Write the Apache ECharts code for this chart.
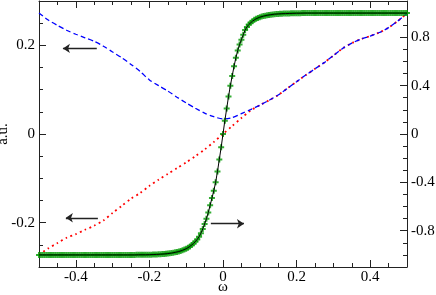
<!DOCTYPE html>
<html>
<head>
<meta charset="utf-8">
<script src="https://cdn.jsdelivr.net/npm/echarts@6/dist/echarts.min.js"></script>
<style>
html,body{margin:0;padding:0;background:#fff;}
#chart{width:436px;height:295px;}
</style>
</head>
<body>
<div id="chart"></div>
<script>
// ---- data ----
const curveOmega = [-0.5,-0.475,-0.45,-0.425,-0.4,-0.375,-0.35,-0.325,-0.3,-0.275,-0.25,-0.225,-0.2,-0.175,-0.15,-0.125,-0.1,-0.075,-0.05,-0.025,0,0.025,0.05,0.075,0.1,0.125,0.15,0.175,0.2,0.225,0.25,0.275,0.3,0.325,0.35,0.375,0.4,0.425,0.45,0.475,0.5];
const blueVals = [0.273,0.257,0.245,0.234,0.225,0.217,0.209,0.198,0.185,0.172,0.157,0.141,0.122,0.109,0.097,0.083,0.070,0.058,0.047,0.039,0.034,0.037,0.046,0.055,0.065,0.076,0.088,0.103,0.118,0.133,0.147,0.161,0.177,0.193,0.205,0.214,0.221,0.229,0.240,0.255,0.272];
const redVals = [-0.272,-0.258,-0.246,-0.234,-0.226,-0.216,-0.207,-0.195,-0.178,-0.162,-0.146,-0.133,-0.117,-0.103,-0.090,-0.077,-0.064,-0.050,-0.035,-0.018,0,0.018,0.036,0.053,0.065,0.076,0.088,0.103,0.118,0.133,0.147,0.161,0.177,0.193,0.205,0.214,0.221,0.229,0.240,0.255,0.272];

const stepOmega = [
-0.5,-0.495,-0.49,-0.485,-0.48,-0.475,-0.47,-0.465,-0.46,-0.455,
-0.45,-0.445,-0.44,-0.435,-0.43,-0.425,-0.42,-0.415,-0.41,-0.405,
-0.4,-0.395,-0.39,-0.385,-0.38,-0.375,-0.37,-0.365,-0.36,-0.355,
-0.35,-0.345,-0.34,-0.335,-0.33,-0.325,-0.32,-0.315,-0.31,-0.305,
-0.3,-0.295,-0.29,-0.285,-0.28,-0.275,-0.27,-0.265,-0.26,-0.255,
-0.25,-0.245,-0.24,-0.235,-0.23,-0.225,-0.22,-0.215,-0.21,-0.205,
-0.2,-0.195,-0.19,-0.185,-0.18,-0.175,-0.17,-0.165,-0.16,-0.155,
-0.15,-0.145,-0.14,-0.135,-0.13,-0.125,-0.12,-0.115,-0.11,-0.105,
-0.1,-0.095,-0.09,-0.085,-0.08,-0.075,-0.07,-0.065,-0.06,-0.055,
-0.05,-0.045,-0.04,-0.035,-0.03,-0.025,-0.02,-0.015,-0.01,-0.005,
0,
0.005,0.01,0.015,0.02,0.025,0.03,0.035,0.04,0.045,0.05,
0.055,0.06,0.065,0.07,0.075,0.08,0.085,0.09,0.095,0.1,
0.105,0.11,0.115,0.12,0.125,0.13,0.135,0.14,0.145,0.15,
0.155,0.16,0.165,0.17,0.175,0.18,0.185,0.19,0.195,0.2,
0.205,0.21,0.215,0.22,0.225,0.23,0.235,0.24,0.245,0.25,
0.255,0.26,0.265,0.27,0.275,0.28,0.285,0.29,0.295,0.3,
0.305,0.31,0.315,0.32,0.325,0.33,0.335,0.34,0.345,0.35,
0.355,0.36,0.365,0.37,0.375,0.38,0.385,0.39,0.395,0.4,
0.405,0.41,0.415,0.42,0.425,0.43,0.435,0.44,0.445,0.45,
0.455,0.46,0.465,0.47,0.475,0.48,0.485,0.49,0.495,0.5];
const stepVals = [
-1,-1,-1,-1,-1,-1,-1,-1,-1,-1,
-1,-1,-1,-1,-1,-1,-1,-1,-1,-1,
-1,-1,-1,-1,-1,-1,-1,-1,-1,-1,
-1,-1,-1,-1,-1,-1,-1,-1,-1,-1,
-1,-1,-1,-1,-1,-1,-1,-1,-1,-1,
-1,-1,-1,-0.999,-0.999,-0.999,-0.999,-0.999,-0.999,-0.999,
-0.998,-0.998,-0.997,-0.997,-0.996,-0.995,-0.994,-0.993,-0.992,-0.991,
-0.989,-0.987,-0.985,-0.982,-0.979,-0.976,-0.972,-0.967,-0.962,-0.956,
-0.949,-0.94,-0.93,-0.918,-0.905,-0.89,-0.872,-0.85,-0.82,-0.785,
-0.745,-0.70,-0.65,-0.59,-0.53,-0.47,-0.40,-0.31,-0.21,-0.11,
0,
0.11,0.21,0.31,0.40,0.48,0.56,0.63,0.69,0.74,0.78,
0.82,0.86,0.885,0.905,0.92,0.933,0.944,0.953,0.96,0.966,
0.971,0.975,0.979,0.982,0.985,0.987,0.989,0.991,0.992,0.993,
0.994,0.995,0.996,0.996,0.997,0.997,0.998,0.998,0.999,0.999,
0.999,0.999,1,1,1,1,1,1,1,1,
1,1,1,1,1,1,1,1,1,1,
1,1,1,1,1,1,1,1,1,1,
1,1,1,1,1,1,1,1,1,1,
1,1,1,1,1,1,1,1,1,1,
1,1,1,1,1,1,1,1,1,1];

const xTickLabels = [-0.4,-0.2,0,0.2,0.4];
const leftTickLabels = [-0.2,0,0.2];
const rightTickLabels = [-0.8,-0.4,0,0.4,0.8];

// annotation arrows: [fromX, fromY, toX, toY] in data units
const leftArrows = [[-0.343,0.193,-0.435,0.193],[-0.340,-0.189,-0.427,-0.189]];
const rightArrows = [[-0.033,-0.742,0.057,-0.742]];

// ---- chart ----
const pair = (xs, ys) => xs.map((x, i) => [x, ys[i]]);
const FONT = 'Liberation Serif';
const FS = 15;
const AX = '#222';
const plusPath = 'path://M2,0H4V2H6V4H4V6H2V4H0V2H2Z';

function majorAxis(extra){
  return Object.assign({
    type:'value',
    axisLine:{show:true, onZero:false, lineStyle:{color:AX, width:1}},
    axisTick:{show:true, inside:true, length:7, lineStyle:{color:AX, width:1}},
    splitLine:{show:false},
    axisLabel:{show:true, color:'#000', fontFamily:FONT, fontSize:FS, margin:5}
  }, extra);
}
function minorAxis(extra){
  return Object.assign({
    type:'value',
    axisLine:{show:false, onZero:false},
    axisTick:{show:true, inside:true, length:4, lineStyle:{color:AX, width:1}},
    splitLine:{show:false},
    axisLabel:{show:false}
  }, extra);
}

const arrowLine = (arr) => arr.map(a => [{coord:[a[0],a[1]]},{coord:[a[2],a[3]]}]);
const markArrows = (arr) => ({
  silent:true, animation:false,
  symbol:['none','arrow'], symbolSize:7,
  label:{show:false},
  lineStyle:{color:'#222', width:1.4, type:'solid'},
  emphasis:{disabled:true},
  data: arrowLine(arr)
});

const option = {
  animation:false,
  grid:{left:39, right:29, top:1, bottom:28, containLabel:false, outerBoundsMode:'none'},
  xAxis:[
    majorAxis({position:'bottom', min:-0.5, max:0.5,
      axisTick:{show:true, inside:true, length:7, customValues:xTickLabels, lineStyle:{color:AX}},
      axisLabel:{show:true, customValues:xTickLabels, color:'#000', fontFamily:FONT, fontSize:FS, margin:3, formatter:v=>String(v)},
      name:'ω', nameLocation:'middle', nameGap:13, nameMoveOverlap:false,
      nameTextStyle:{fontFamily:FONT, fontSize:FS, color:'#000'}}),
    minorAxis({position:'bottom', min:-0.5, max:0.5, interval:0.05}),
    majorAxis({position:'top', min:-0.5, max:0.5,
      axisTick:{show:true, inside:true, length:7, customValues:xTickLabels, lineStyle:{color:AX}},
      axisLabel:{show:false}}),
    minorAxis({position:'top', min:-0.5, max:0.5, interval:0.05})
  ],
  yAxis:[
    majorAxis({position:'left', min:-0.3, max:0.3,
      axisTick:{show:true, inside:true, length:7, customValues:leftTickLabels, lineStyle:{color:AX}},
      axisLabel:{show:true, customValues:leftTickLabels, color:'#000', fontFamily:FONT, fontSize:FS, margin:4, formatter:v=>String(v)},
      name:'a.u.', nameLocation:'middle', nameGap:28, nameMoveOverlap:false,
      nameTextStyle:{fontFamily:FONT, fontSize:FS, color:'#000'}}),
    majorAxis({position:'right', min:-1.1, max:1.1,
      axisTick:{show:true, inside:true, length:7, customValues:rightTickLabels, lineStyle:{color:AX}},
      axisLabel:{show:true, customValues:rightTickLabels, color:'#000', fontFamily:FONT, fontSize:FS, margin:4, formatter:v=>String(v)}}),
    minorAxis({position:'left', min:-0.3, max:0.3, interval:0.05}),
    minorAxis({position:'right', min:-1.1, max:1.1, interval:0.1})
  ],
  series:[
    {
      type:'line', xAxisIndex:0, yAxisIndex:0, data:pair(curveOmega, blueVals),
      symbol:'none', smooth:0.25,
      lineStyle:{color:'#0000ff', width:1.3, type:[5,3]}, z:3,
      markLine: markArrows(leftArrows)
    },
    {
      type:'line', xAxisIndex:0, yAxisIndex:0, data:pair(curveOmega, redVals),
      symbol:'none', smooth:0.25,
      lineStyle:{color:'#ff0000', width:1.8, type:[1.8,3.4]}, z:2
    },
    {
      type:'scatter', xAxisIndex:0, yAxisIndex:1, data:pair(stepOmega, stepVals),
      symbol:plusPath, symbolSize:6, itemStyle:{color:'#009a00'}, z:4
    },
    {
      type:'line', xAxisIndex:0, yAxisIndex:1, data:pair(stepOmega, stepVals),
      symbol:'none', lineStyle:{color:'#000', width:1}, z:5,
      markLine: markArrows(rightArrows)
    }
  ]
};
const chart = echarts.init(document.getElementById('chart'), null, {renderer:'canvas'});
chart.setOption(option);
</script>
</body>
</html>
